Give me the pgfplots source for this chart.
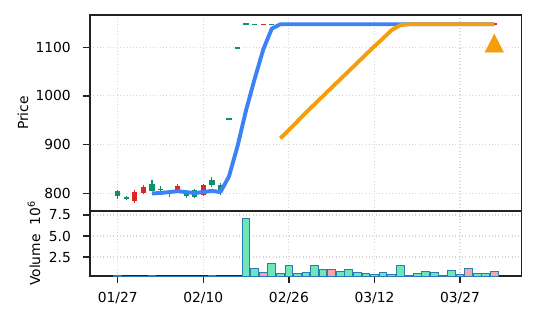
\documentclass[border=0pt]{standalone}
\usepackage{fontspec}
\setmainfont{DejaVu Sans}
\usepackage{pgfplots}
\pgfplotsset{compat=1.18}
\usepackage{pgfplotstable}

\definecolor{cgreen}{HTML}{0C9169}
\definecolor{cred}{HTML}{DC2626}
\definecolor{vgreen}{HTML}{6EE7B7}
\definecolor{vred}{HTML}{FCA5A5}
\definecolor{vedge}{HTML}{2C7BB6}
\definecolor{mablue}{HTML}{3B82F6}
\definecolor{maorange}{HTML}{F59E0B}
\definecolor{gridc}{HTML}{D6D6D6}
\definecolor{spine}{HTML}{222222}

% candles: index open high low close
\pgfplotstableread{
i o h l c
0 795 808 789 804
1 788 794 786 792
4 805 827 805 820
5 807 815 801 810
6 803 807 793 805
8 794 807 790 803
9 792 810 791 807
11 818 834 814 828
12 803 822 796 818
13 951 955 951 955
14 1097 1101 1097 1101
15 1145 1149 1145 1149
16 1145 1148 1145 1148
18 1145 1148 1145 1148
19 1145 1149 1145 1149
20 1145 1149 1145 1149
21 1145 1149 1145 1149
22 1145 1149 1145 1149
23 1145 1149 1145 1149
24 1145 1149 1145 1149
26 1145 1149 1145 1149
27 1145 1149 1145 1149
28 1145 1149 1145 1149
29 1145 1149 1145 1149
30 1145 1149 1145 1149
31 1145 1149 1145 1149
32 1145 1149 1145 1149
33 1145 1149 1145 1149
34 1145 1149 1145 1149
35 1145 1149 1145 1149
36 1145 1149 1145 1149
37 1145 1149 1145 1149
38 1145 1149 1145 1149
39 1145 1149 1145 1149
42 1145 1149 1145 1149
43 1145 1149 1145 1149
}\upcandles
\pgfplotstableread{
i o h l c
2 802 807 781 785
3 814 817 799 800
7 815 820 805 807
10 818 820 795 797
17 1148 1148 1145 1145
25 1149 1149 1145 1145
40 1149 1149 1145 1145
41 1149 1149 1145 1145
44 1149 1149 1145 1145
}\downcandles

% volume (millions)
\pgfplotstableread{
i v
0 0.33
1 0.1
4 0.33
5 0.1
6 0.1
8 0.1
9 0.1
11 0.33
12 0.1
13 0.1
14 0.15
15 7.1
16 1.18
18 1.7
19 0.5
20 1.46
21 0.5
22 0.62
23 1.46
24 1.06
26 0.78
27 1.06
28 0.62
29 0.5
30 0.38
31 0.62
32 0.38
33 1.46
34 0.26
35 0.5
36 0.78
37 0.66
38 0.26
39 0.9
42 0.5
43 0.5
}\upvol
\pgfplotstableread{
i v
2 0.1
3 0.1
7 0.1
10 0.1
17 0.62
25 1.06
40 0.38
41 1.1
44 0.78
}\downvol

% moving averages
\pgfplotstableread{
i m
4 800
5 801
6 802.7
7 804.7
8 802.7
9 801
10 802.7
11 805.4
12 802.7
13 835
14 897
15 971
16 1035
17 1095
18 1138
19 1147
20 1147
21 1147
22 1147
23 1147
24 1147
25 1147
26 1147
27 1147
28 1147
29 1147
30 1147
31 1147
32 1147
33 1147
34 1147
35 1147
36 1147
37 1147
38 1147
39 1147
40 1147
41 1147
42 1147
43 1147
44 1147
}\mafive
\pgfplotstableread{
i m
19 913
20 930
21 948
22 966
23 983
24 1000
25 1017
26 1034
27 1051
28 1068
29 1085
30 1102
31 1118
32 1135
33 1145
34 1147
35 1147
36 1147
37 1147
38 1147
39 1147
40 1147
41 1147
42 1147
43 1147
44 1147
}\matwenty

\pgfplotsset{
  common/.style={
    scale only axis, width=310.8bp,
    xmin=-3.24, xmax=47.2,
    axis line style={line width=1.1bp, color=spine},
    tick style={line width=0.9bp, color=spine},
    major tick length=4.8bp, tick align=outside,
    xmajorgrids, ymajorgrids,
    grid style={dotted, gridc, line width=0.8bp},
    ytick pos=left, xtick pos=left,
    xtick={0,10,20,30,40},
    /pgf/number format/assume math mode=true,
    yticklabel style={xshift=-5.5bp},
    xticklabel style={yshift=-3.5bp},
    every axis y label/.style={rotate=90, anchor=base},
  },
  wick/.style={draw=none, mark=none, forget plot,
    error bars/.cd, y dir=plus, y explicit, error mark=none,
    error bar style={draw=#1, line width=0.8bp}},
  body/.style={draw=none, mark=none, forget plot,
    error bars/.cd, y dir=plus, y explicit, error mark=none,
    error bar style={draw=#1, line width=3.8bp}},
}

\begin{document}
\begin{tikzpicture}
\path[use as bounding box] (0bp,0bp) rectangle (386.64bp,231.84bp);

% price panel
\begin{axis}[common,
  at={(64.8bp,79.92bp)}, anchor=south west,
  height=141.12bp,
  ymin=764, ymax=1166,
  ytick={800,900,1000,1100},
  /pgf/number format/1000 sep={},
  xticklabels={}, xtick style={draw=none},
  ylabel={Price},
  ylabel style={at={(axis description cs:-0.1436,0.5)}},
]
\addplot[wick=cgreen] table[x=i, y=l, y error plus expr=\thisrow{h}-\thisrow{l}] {\upcandles};
\addplot[wick=cred] table[x=i, y=l, y error plus expr=\thisrow{h}-\thisrow{l}] {\downcandles};
\addplot[body=cgreen] table[x=i, y=o, y error plus expr=\thisrow{c}-\thisrow{o}] {\upcandles};
\addplot[body=cred] table[x=i, y=c, y error plus expr=\thisrow{o}-\thisrow{c}] {\downcandles};
\addplot[mablue, line width=2.8bp, line join=round, mark=none] table[x=i, y=m] {\mafive};
\addplot[maorange, line width=2.8bp, line join=round, mark=none] table[x=i, y=m] {\matwenty};
\addplot[only marks, mark=triangle*, mark size=7.6bp, color=maorange,
  mark options={yscale=1.13}] coordinates {(44,1102)};
\end{axis}

% volume panel
\begin{axis}[common,
  at={(64.8bp,33.12bp)}, anchor=south west,
  height=46.8bp,
  ymin=0.24, ymax=7.98,
  ytick={2.5,5,7.5},
  yticklabel style={/pgf/number format/.cd, fixed, fixed zerofill, precision=1},
  xticklabels={01/27,02/10,02/26,03/12,03/27},
  ylabel={Volume\ \ 10\textsuperscript{6}},
  ylabel style={at={(axis description cs:-0.1158,0.5)}},
]
\addplot[ybar, bar width=0.9, bar shift=0pt, fill=vgreen, draw=vedge, line width=0.7bp] table[x=i, y=v] {\upvol};
\addplot[ybar, bar width=0.9, bar shift=0pt, fill=vred, draw=vedge, line width=0.7bp] table[x=i, y=v] {\downvol};
\end{axis}
\end{tikzpicture}
\end{document}
